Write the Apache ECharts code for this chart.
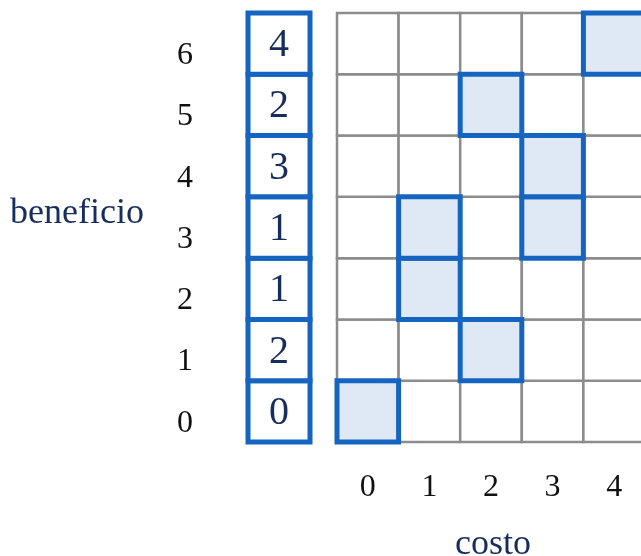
<!DOCTYPE html>
<html>
<head>
    <meta charset="utf-8" />
    <title>costo / beneficio</title>
    <script src="https://cdn.jsdelivr.net/npm/echarts@6/dist/echarts.min.js"></script>
    <style>
        html, body { margin: 0; padding: 0; background: #fff; }
        #chart { width: 641px; height: 556px; }
    </style>
</head>
<body>
    <div id="chart"></div>
</body>
</html>
<script>
    // datos
    var costos = ['0', '1', '2', '3', '4'];
    var beneficios = ['0', '1', '2', '3', '4', '5', '6'];
    // valor de la columna izquierda, por beneficio 0..6
    var conteos = [0, 2, 1, 1, 3, 2, 4];
    // celdas marcadas [costo, beneficio]
    var marcadas = [[0, 0], [2, 1], [1, 2], [1, 3], [3, 3], [3, 4], [2, 5], [4, 6]];

    var AZUL = '#1565c0';
    var RELLENO = '#dfe8f5';
    var GRIS = '#8c8c8c';
    var TINTA = '#172d5c';
    var FUENTE = '"Liberation Serif", serif';

    // todas las celdas de la rejilla
    var celdas = [];
    for (var i = 0; i < costos.length; i++) {
        for (var j = 0; j < beneficios.length; j++) {
            celdas.push([i, j]);
        }
    }
    var columna = conteos.map(function (v, j) { return [0, j, v]; });

    function celda(params, api, estilo) {
        var c = api.coord([api.value(0), api.value(1)]);
        var s = api.size([1, 1]);
        return {
            type: 'rect',
            shape: { x: c[0] - s[0] / 2, y: c[1] - s[1] / 2, width: s[0], height: s[1] },
            style: estilo
        };
    }

    var myChart = echarts.init(document.getElementById('chart'));
    var option = {
        animation: false,
        grid: [
            { left: 337, top: 13, width: 308, height: 429, outerBoundsMode: 'none' },
            { left: 248, top: 13, width: 62, height: 429, outerBoundsMode: 'none' }
        ],
        xAxis: [
            {
                gridIndex: 0, type: 'category', data: costos,
                axisLine: { show: false }, axisTick: { show: false }, splitLine: { show: false },
                axisLabel: { margin: 30, fontFamily: FUENTE, fontSize: 32, color: '#111' }
            },
            {
                gridIndex: 1, type: 'category', data: ['c'], show: false
            }
        ],
        yAxis: [
            {
                gridIndex: 0, type: 'category', data: beneficios, show: false
            },
            {
                gridIndex: 1, type: 'category', data: beneficios,
                axisLine: { show: false }, axisTick: { show: false }, splitLine: { show: false },
                axisLabel: {
                    margin: 55, fontFamily: FUENTE, fontSize: 32, color: '#111',
                    verticalAlign: 'top', lineHeight: 24
                }
            }
        ],
        graphic: [
            {
                type: 'text', left: 10, top: 196,
                style: { text: 'beneficio', font: '36px ' + FUENTE, fill: TINTA }
            },
            {
                type: 'text', left: 455, top: 527,
                style: { text: 'costo', font: '36px ' + FUENTE, fill: TINTA }
            }
        ],
        series: [
            {
                type: 'custom', xAxisIndex: 0, yAxisIndex: 0, data: celdas,
                renderItem: function (params, api) {
                    return celda(params, api, { fill: '#fff', stroke: GRIS, lineWidth: 2.5 });
                }
            },
            {
                type: 'custom', xAxisIndex: 0, yAxisIndex: 0, data: marcadas, z: 3,
                renderItem: function (params, api) {
                    return celda(params, api, { fill: RELLENO, stroke: AZUL, lineWidth: 5 });
                }
            },
            {
                type: 'custom', xAxisIndex: 1, yAxisIndex: 1, data: columna,
                renderItem: function (params, api) {
                    var r = celda(params, api, { fill: '#fff', stroke: AZUL, lineWidth: 5 });
                    return {
                        type: 'group',
                        children: [
                            r,
                            {
                                type: 'text',
                                x: r.shape.x + r.shape.width / 2,
                                y: r.shape.y + r.shape.height / 2 + 2,
                                style: {
                                    text: String(api.value(2)), font: '40px ' + FUENTE, fill: TINTA,
                                    align: 'center', verticalAlign: 'middle'
                                }
                            }
                        ]
                    };
                }
            }
        ]
    };
    myChart.setOption(option);
</script>
